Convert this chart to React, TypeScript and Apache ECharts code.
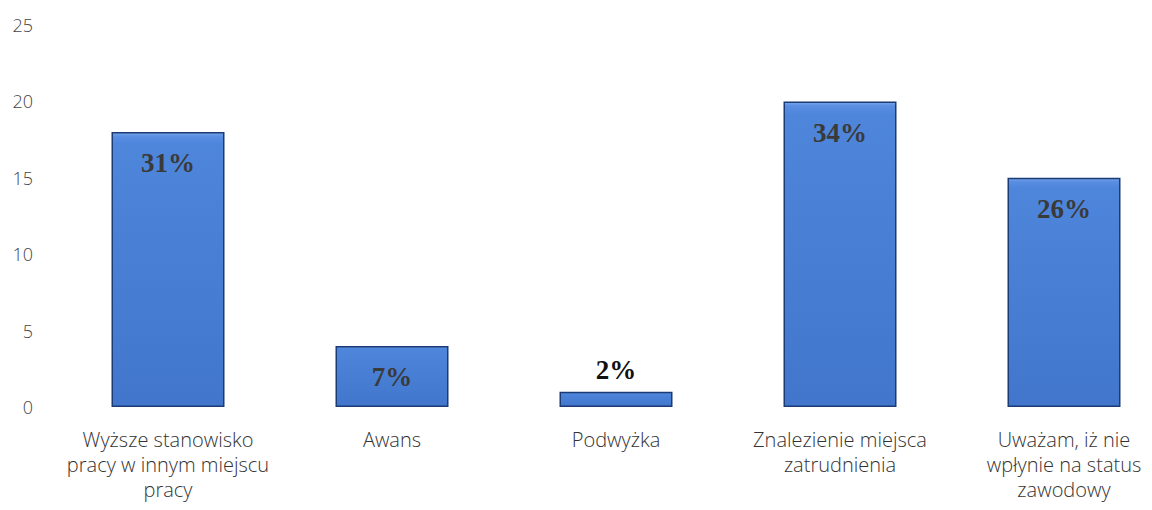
import React, { useEffect, useRef } from "react";
import * as echarts from "echarts";

const categories = [
  "Wyższe stanowisko\npracy w innym miejscu\npracy",
  "Awans",
  "Podwyżka",
  "Znalezienie miejsca\nzatrudnienia",
  "Uważam, iż nie\nwpłynie na status\nzawodowy",
];
const values = [18, 4, 1, 20, 15];
const percentLabels = ["31%", "7%", "2%", "34%", "26%"];
const labelInside = [true, true, false, true, true];

export default function App() {
  const ref = useRef<HTMLDivElement>(null);
  useEffect(() => {
    if (!ref.current) return;
    const chart = echarts.init(ref.current, undefined, { renderer: "svg" });
    const barFill = new echarts.graphic.LinearGradient(0, 0, 0, 1, [
      { offset: 0, color: "#7aa8ec" },
      { offset: 0.012, color: "#5a8fe2" },
      { offset: 0.04, color: "#4e86dc" },
      { offset: 1, color: "#4176cc" },
    ]);
    chart.setOption({
      animation: false,
      backgroundColor: "#ffffff",
      grid: { left: 56, top: 25, width: 1120, height: 382, containLabel: false },
      xAxis: {
        type: "category",
        data: categories,
        axisLine: { show: false },
        axisTick: { show: false },
        axisLabel: {
          interval: 0,
          margin: 20,
          color: "#333333",
          fontFamily: "Open Sans",
          fontWeight: 300,
          fontSize: 20,
          lineHeight: 25,
        },
      },
      yAxis: {
        type: "value",
        min: 0,
        max: 25,
        interval: 5,
        axisLine: { show: false },
        axisTick: { show: false },
        splitLine: { show: false },
        axisLabel: {
          margin: 23,
          color: "#444444",
          fontFamily: "Open Sans",
          fontWeight: 300,
          fontSize: 18,
        },
      },
      series: [
        {
          type: "bar",
          barWidth: 113,
          data: values.map((v, i) => ({
            value: v,
            label: {
              show: true,
              formatter: percentLabels[i],
              position: labelInside[i] ? "insideTop" : "top",
              distance: labelInside[i] ? 18 : 8,
              color: labelInside[i] ? "#3a3a3a" : "#111111",
              fontFamily: "Liberation Serif",
              fontWeight: "bold",
              fontSize: 27,
            },
          })),
          itemStyle: {
            color: barFill,
            borderColor: "#1c3b74",
            borderWidth: 1.5,
          },
        },
      ],
    });
    return () => chart.dispose();
  }, []);
  return (
    <div style={{ width: 1152, height: 510, margin: -8, overflow: "hidden" }}>
      <div ref={ref} style={{ width: 1180, height: 510 }} />
    </div>
  );
}
